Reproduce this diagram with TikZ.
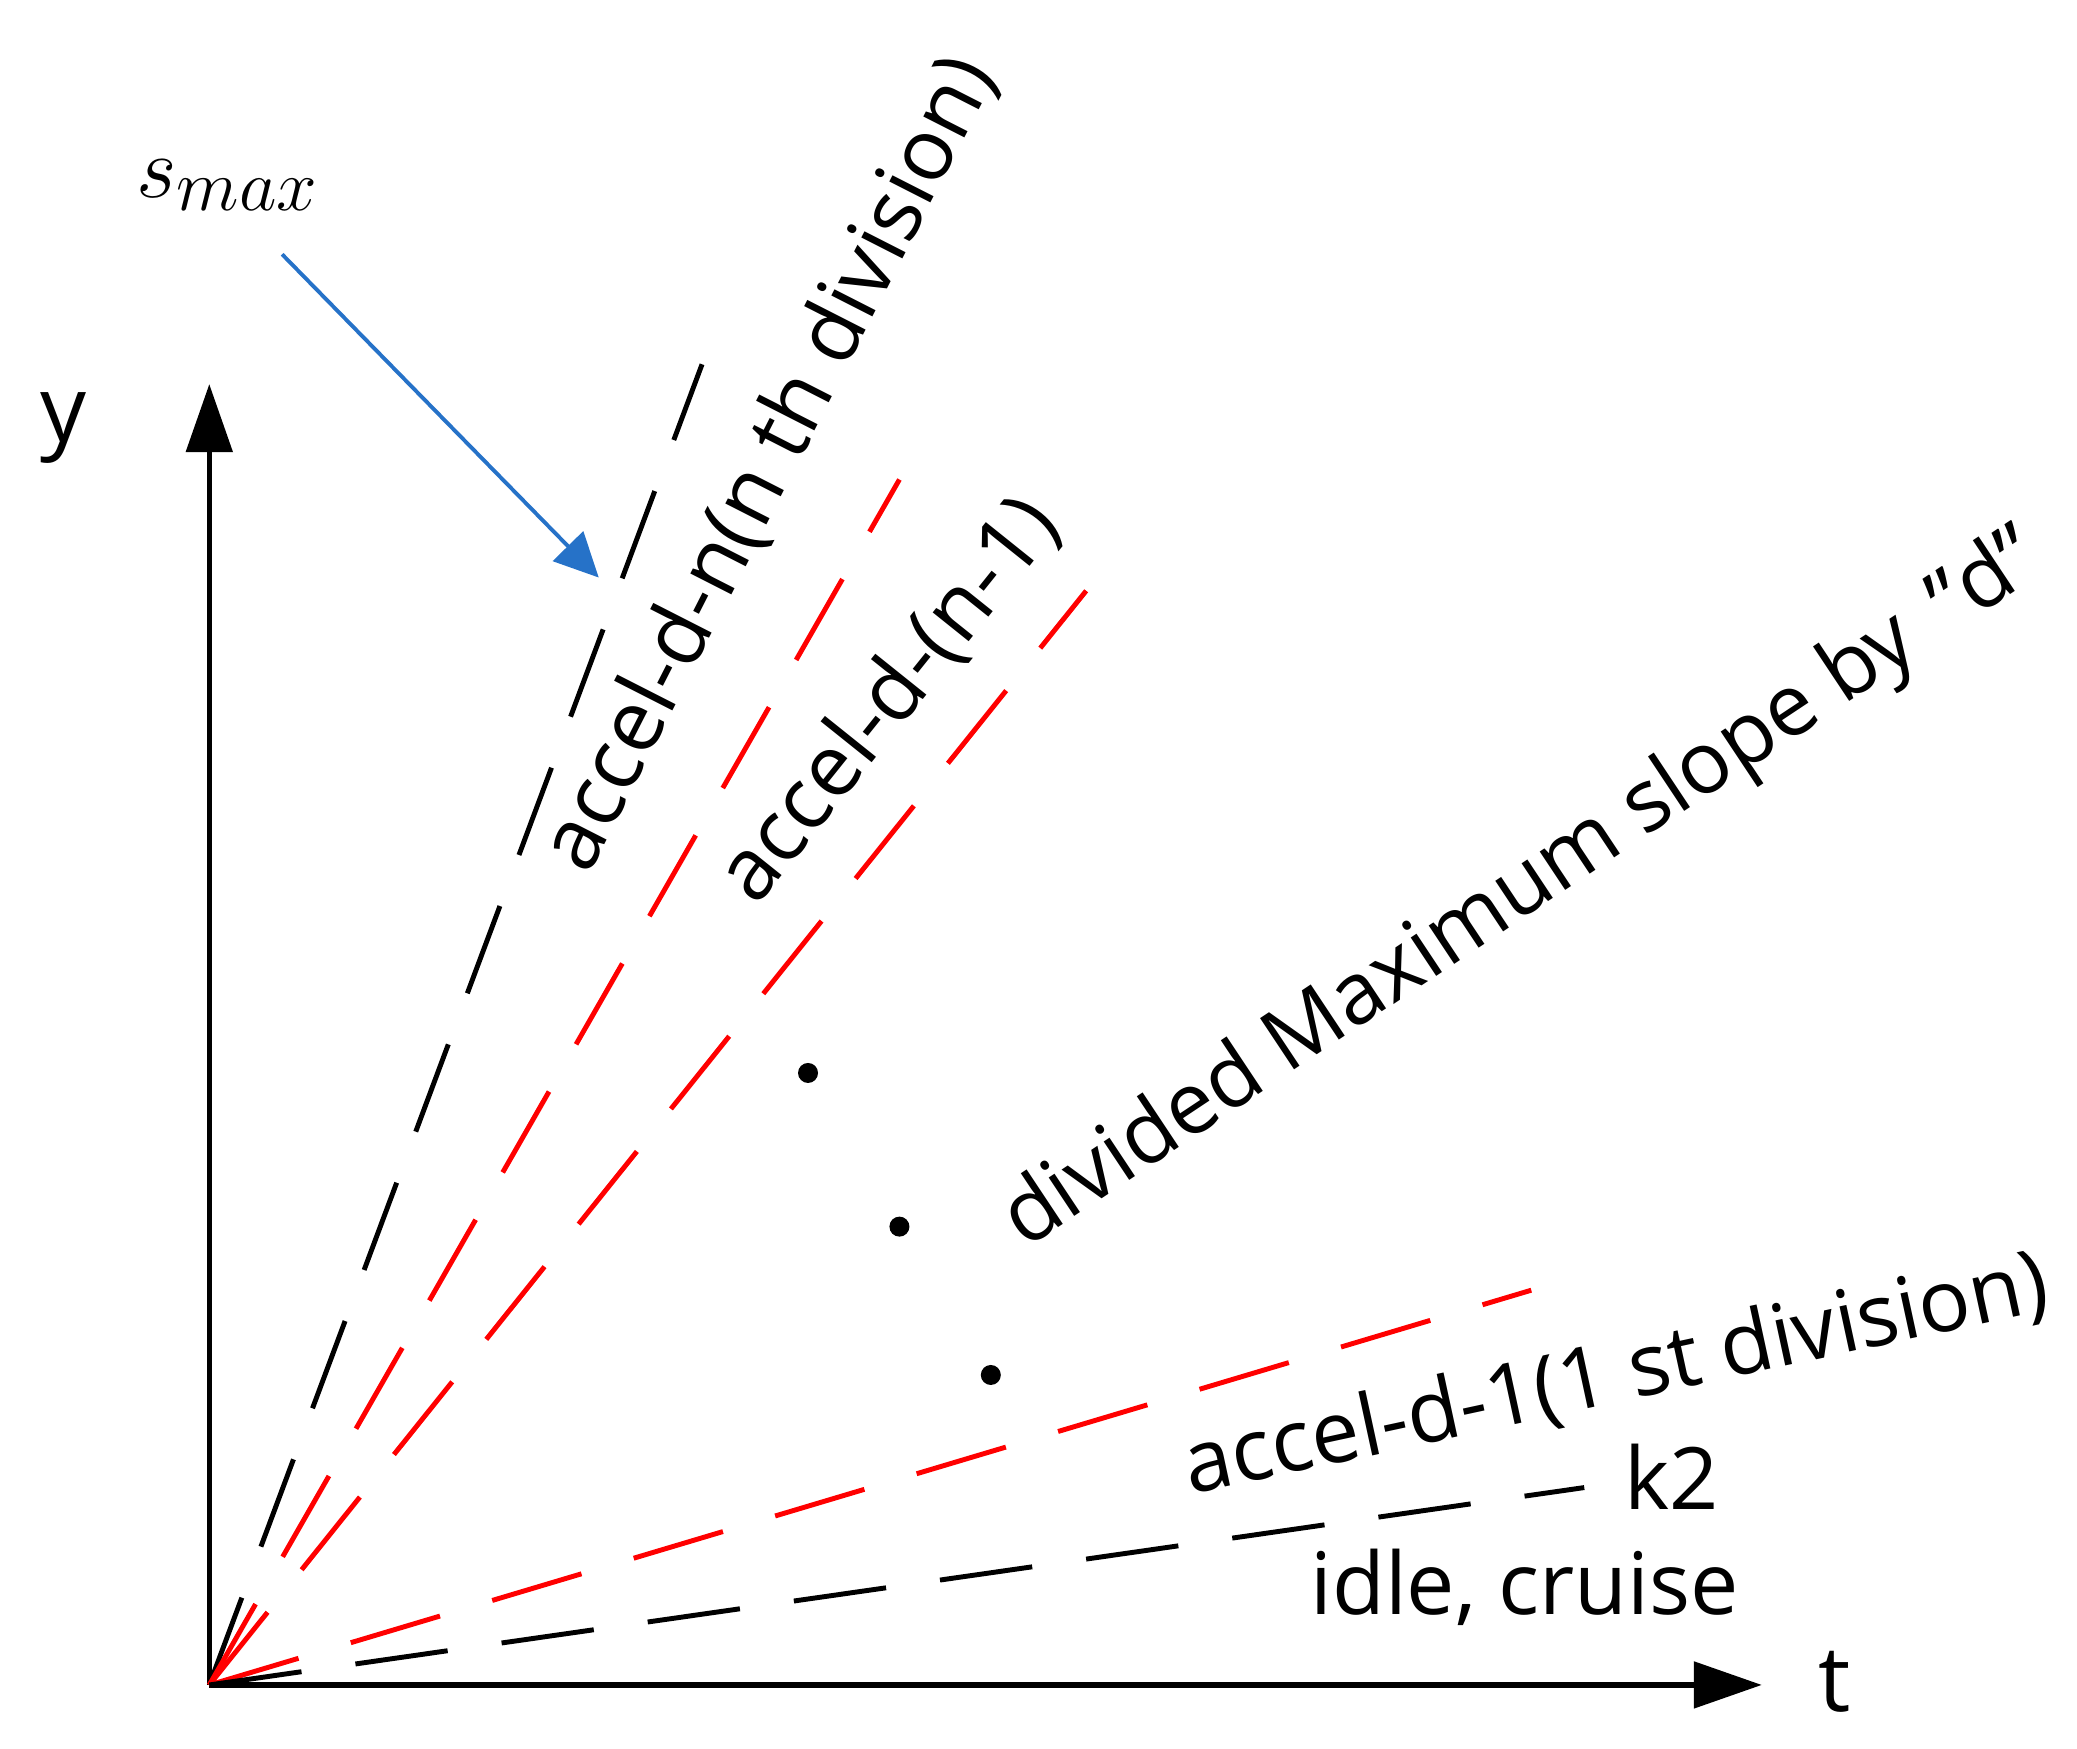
\documentclass[tikz,border=0pt]{standalone}
\usepackage{fontspec}
\setmainfont{Open Sans}
\usetikzlibrary{arrows.meta}
\definecolor{arrowblue}{RGB}{38,114,200}
\begin{document}
\begin{tikzpicture}[x=0.013246cm,y=-0.013246cm,
  axis/.style={line width=1.5pt,-{Triangle[length=0.68cm,width=0.46cm]}},
  dline/.style={line width=1.4pt,dash pattern=on 26.5pt off 15.5pt},
  lbl/.style={font=\fontsize{24.5}{29}\selectfont,inner sep=0pt},
  dotc/.style={circle,fill=black,inner sep=0pt,minimum size=0.2cm},
]
\useasboundingbox (0,0) rectangle (1568,1320);

% origin and ends
\coordinate (O) at (158,1272);
\coordinate (ytip) at (158,290);
\coordinate (xtip) at (1330,1272);
\coordinate (en) at (530,275);
\coordinate (er1) at (679,362);
\coordinate (er2) at (820,446);
\coordinate (ed1) at (1156,974);
\coordinate (ek2) at (1196,1123);
\coordinate (bs) at (213,192);
\coordinate (be) at (452,436);

% axes
\draw[axis] (O) -- (ytip);
\draw[axis] (O) -- (xtip);

% dashed lines
\draw[dline,black] (O) -- (en);
\draw[dline,red] (O) -- (er1);
\draw[dline,red] (O) -- (er2);
\draw[dline,red] (O) -- (ed1);
\draw[dline,black] (O) -- (ek2);

% blue arrow
\draw[arrowblue,line width=1.1pt,-{Triangle[length=0.44cm,width=0.42cm]}] (bs) -- (be);

% dots
\node[dotc] (d1) at (610,810) {};
\node[dotc] (d2) at (679,926) {};
\node[dotc] (d3) at (748,1038) {};

% labels
\node[font=\fontsize{26}{30}\selectfont,inner sep=0pt] (ylab) at (48,323) {y};
\node[font=\fontsize{26}{30}\selectfont,inner sep=0pt] (tlab) at (1385,1270) {t};
\node[font=\fontsize{29}{34}\selectfont,inner sep=0pt] (smax) at (172,140) {$s_{max}$};

\node[lbl,rotate=63] (ln) at (581,350) {accel-d-n(n th division)};
\node[lbl,rotate=51.3] (ln1) at (671,529) {accel-d-(n-1)};
\node[lbl,rotate=33.6] (ldiv) at (1150,673) {divided Maximum slope by \,"d"};
\node[lbl,rotate=12.2] (l1) at (1220,1039) {accel-d-1(1 st division)};
\node[lbl] (lk2) at (1262,1115) {k2};
\node[lbl] (lidle) at (1151,1198) {idle, cruise};
\end{tikzpicture}
\end{document}
